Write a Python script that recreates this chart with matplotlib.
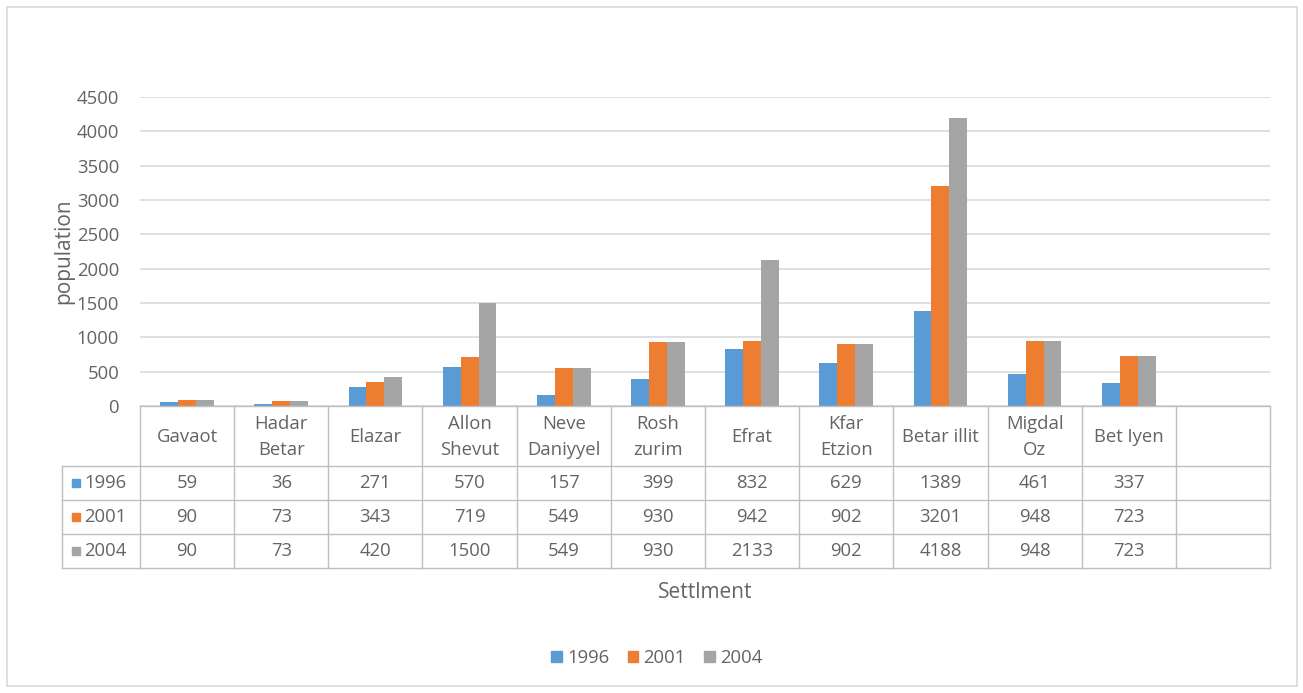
import matplotlib
matplotlib.use("Agg")
import matplotlib.pyplot as plt
from matplotlib.transforms import blended_transform_factory
from matplotlib.lines import Line2D
from matplotlib.patches import Rectangle, Patch

categories = ["Gavaot", "Hadar\nBetar", "Elazar", "Allon\nShevut", "Neve\nDaniyyel",
              "Rosh\nzurim", "Efrat", "Kfar\nEtzion", "Betar illit", "Migdal\nOz", "Bet Iyen", ""]
years = ["1996", "2001", "2004"]
v1996 = [59, 36, 271, 570, 157, 399, 832, 629, 1389, 461, 337]
v2001 = [90, 73, 343, 719, 549, 930, 942, 902, 3201, 948, 723]
v2004 = [90, 73, 420, 1500, 549, 930, 2133, 902, 4188, 948, 723]
series = [v1996, v2001, v2004]
colors = ["#5B9BD5", "#ED7D31", "#A5A5A5"]
yticks = [0, 500, 1000, 1500, 2000, 2500, 3000, 3500, 4000, 4500]

W, H = 1303, 693
fig = plt.figure(figsize=(W / 100, H / 100), dpi=100)
plt.rcParams['font.family'] = ['Open Sans', 'DejaVu Sans']
txt = "#646464"
grid = "#D9D9D9"
tbl = "#BFBFBF"
fs = 13.3

def fy(py):
    return 1 - py / H

def fx(px):
    return px / W

ax = fig.add_axes([fx(140), fy(406), fx(1270) - fx(140), fy(97) - fy(406)])
n = len(categories)
bw = 0.19
for i, (vals, c, y) in enumerate(zip(series, colors, years)):
    xs = [k + (i - 1) * bw for k in range(len(vals))]
    ax.bar(xs, vals, width=bw, color=c, label=y, zorder=3)
ax.set_xlim(-0.5, n - 0.5)
ax.set_ylim(0, 4500)
ax.set_yticks(yticks)
ax.set_yticklabels([str(t) for t in yticks], fontsize=fs, color=txt)
ax.tick_params(axis='y', length=0, pad=15)
ax.set_xticks([])
for s in ax.spines.values():
    s.set_visible(False)
ax.yaxis.grid(True, color=grid, linewidth=1.2, zorder=0)
ax.set_ylabel("population", fontsize=15, color=txt, labelpad=2)

# data table
tr = blended_transform_factory(ax.transData, fig.transFigure)
trf = fig.transFigure
rows_y = [406, 466, 500, 534, 568]

fig.add_artist(Line2D([-0.5, n - 0.5], [fy(406), fy(406)], transform=tr,
                      color=tbl, linewidth=1, clip_on=False))
for py in rows_y[1:]:
    fig.add_artist(Line2D([fx(62), fx(1270)], [fy(py), fy(py)], transform=trf,
                          color=tbl, linewidth=1, clip_on=False))
for k in range(n + 1):
    xb = k - 0.5
    fig.add_artist(Line2D([xb, xb], [fy(406), fy(568)], transform=tr,
                          color=tbl, linewidth=1, clip_on=False))
fig.add_artist(Line2D([fx(62), fx(62)], [fy(466), fy(568)], transform=trf,
                      color=tbl, linewidth=1, clip_on=False))

for k, cat in enumerate(categories):
    fig.text(k, fy(437), cat, transform=tr, ha='center', va='center',
             fontsize=fs, color=txt, linespacing=1.55)
for r, (vals, c, y) in enumerate(zip(series, colors, years)):
    yc = fy((rows_y[r + 1] + rows_y[r + 2]) / 2)
    fig.add_artist(Rectangle((fx(72), yc - 4 / H), 8 / W, 8 / H, transform=trf,
                             color=c, clip_on=False))
    fig.text(fx(84), yc, y, transform=trf, ha='left', va='center',
             fontsize=fs, color=txt)
    for k, v in enumerate(vals):
        fig.text(k, yc, str(v), transform=tr, ha='center', va='center',
                 fontsize=fs, color=txt)

fig.text(fx(705), fy(592), "Settlment", ha='center', va='center', fontsize=15, color=txt)

handles = [Patch(color=c, label=y) for c, y in zip(colors, years)]
leg = fig.legend(handles=handles, loc='center', bbox_to_anchor=(fx(657), fy(658)),
                 ncol=3, frameon=False, fontsize=fs, handlelength=0.55, handleheight=0.55,
                 handletextpad=0.3, columnspacing=1.0)
for t in leg.get_texts():
    t.set_color(txt)

fig.add_artist(Rectangle((fx(7), fy(686)), fx(1297) - fx(7), fy(7) - fy(686), transform=trf,
                         fill=False, edgecolor="#D9D9D9", linewidth=1.2, clip_on=False))

fig.savefig("out.png", dpi=100, facecolor="white")
